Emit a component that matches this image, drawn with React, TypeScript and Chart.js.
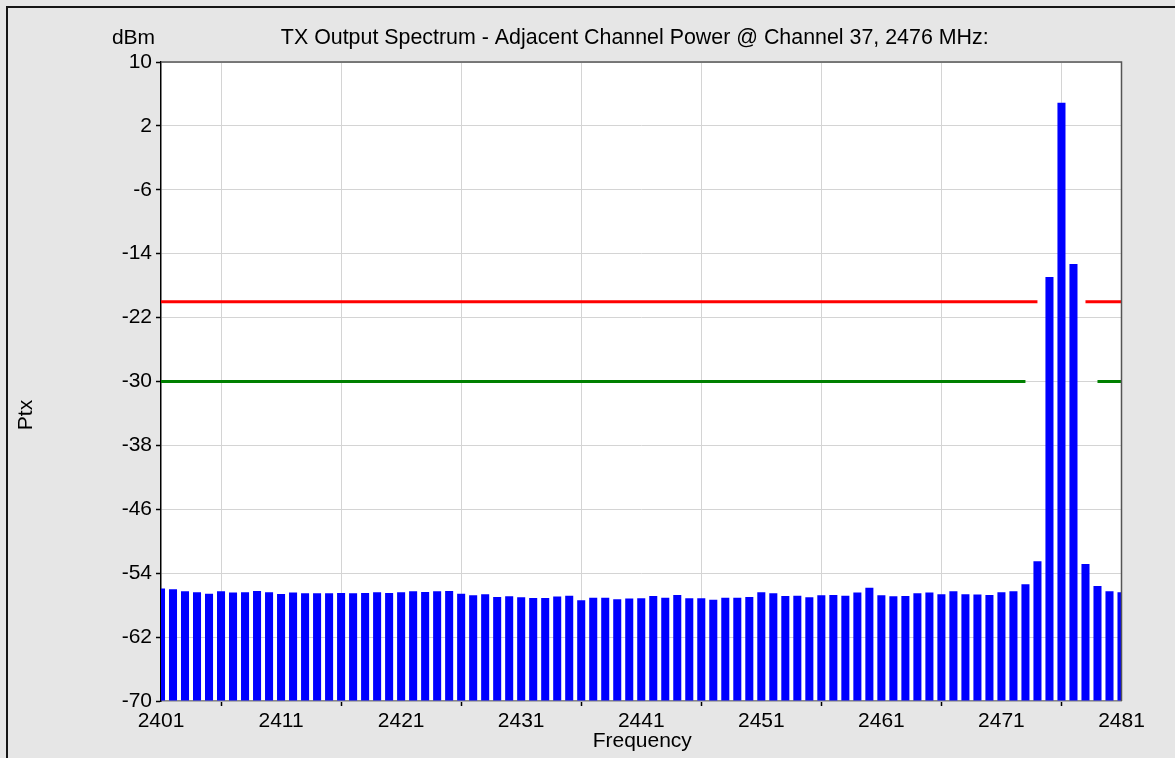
import React, { useEffect, useRef } from 'react';
import { Chart, registerables } from 'chart.js';

Chart.register(...registerables);

const TITLE = 'TX Output Spectrum - Adjacent Channel Power @ Channel 37, 2476 MHz:';
const Y_UNIT = 'dBm';
const Y_TITLE = 'Ptx';
const X_TITLE = 'Frequency';

const frequencies = [
  2401, 2402, 2403, 2404, 2405, 2406, 2407, 2408, 2409, 2410,
  2411, 2412, 2413, 2414, 2415, 2416, 2417, 2418, 2419, 2420,
  2421, 2422, 2423, 2424, 2425, 2426, 2427, 2428, 2429, 2430,
  2431, 2432, 2433, 2434, 2435, 2436, 2437, 2438, 2439, 2440,
  2441, 2442, 2443, 2444, 2445, 2446, 2447, 2448, 2449, 2450,
  2451, 2452, 2453, 2454, 2455, 2456, 2457, 2458, 2459, 2460,
  2461, 2462, 2463, 2464, 2465, 2466, 2467, 2468, 2469, 2470,
  2471, 2472, 2473, 2474, 2475, 2476, 2477, 2478, 2479, 2480,
  2481,
];

const powerDbm = [
  -55.93, -56.02, -56.27, -56.39, -56.56, -56.27, -56.43, -56.39, -56.22, -56.39,
  -56.6, -56.43, -56.52, -56.52, -56.52, -56.47, -56.52, -56.47, -56.39, -56.47,
  -56.39, -56.27, -56.35, -56.27, -56.22, -56.56, -56.77, -56.64, -56.98, -56.89,
  -57.02, -57.1, -57.1, -56.93, -56.81, -57.39, -57.06, -57.06, -57.27, -57.18,
  -57.14, -56.85, -57.06, -56.73, -57.14, -57.14, -57.31, -57.06, -57.06, -56.98,
  -56.39, -56.52, -56.85, -56.83, -57.02, -56.77, -56.73, -56.81, -56.43, -55.81,
  -56.77, -56.89, -56.85, -56.52, -56.43, -56.64, -56.27, -56.64, -56.68, -56.73,
  -56.39, -56.27, -55.39, -52.51, -16.92, 4.91, -15.29, -52.84, -55.6, -56.27,
  -56.39,
];

// Limit lines (null = gap around the carrier)
const redLimitX = [2401, 2474, 2476, 2478, 2481];
const redLimitY = [-20, -20, null, -20, -20];
const greenLimitX = [2401, 2473, 2476, 2479, 2481];
const greenLimitY = [-30, -30, null, -30, -30];

const Y_MIN = -70;
const Y_MAX = 10;
const Y_STEP = 8;
const X_MIN = 2401;
const X_MAX = 2481;
const X_STEP = 10;

const FONT_FAMILY = '"Liberation Sans", Arial, Helvetica, sans-serif';
const FONT_SIZE = 21;
const TITLE_FONT_SIZE = 21.4;

const decorPlugin = {
  id: 'decor',
  beforeDraw(chart: any) {
    const { ctx, chartArea: a, width, height } = chart;
    ctx.save();
    ctx.fillStyle = '#e6e6e6';
    ctx.fillRect(0, 0, width, height);
    ctx.fillStyle = '#161616';
    ctx.fillRect(6, 6, width - 6, 2);
    ctx.fillRect(6, 6, 2, height - 6);
    ctx.fillStyle = '#ffffff';
    ctx.fillRect(a.left, a.top, a.right - a.left, a.bottom - a.top);
    ctx.restore();
  },
  afterDraw(chart: any) {
    const { ctx, chartArea: a } = chart;
    ctx.save();
    ctx.strokeStyle = '#555555';
    ctx.lineWidth = 1.5;
    ctx.beginPath();
    ctx.moveTo(a.left, a.top);
    ctx.lineTo(a.right, a.top);
    ctx.lineTo(a.right, a.bottom);
    ctx.stroke();

    ctx.fillStyle = '#000000';
    ctx.textAlign = 'center';
    ctx.textBaseline = 'middle';
    const cx = (a.left + a.right) / 2;
    ctx.font = `${TITLE_FONT_SIZE}px ${FONT_FAMILY}`;
    ctx.fillText(TITLE, cx - 6.5, a.top - 24);
    ctx.font = `${FONT_SIZE}px ${FONT_FAMILY}`;
    ctx.fillText(Y_UNIT, a.left - 27.5, a.top - 24);
    ctx.fillText(X_TITLE, cx + 1, a.bottom + 40);
    ctx.translate(26, 415);
    ctx.rotate(-Math.PI / 2);
    ctx.fillText(Y_TITLE, 0, 0);
    ctx.restore();
  },
};

export default function App() {
  const canvasRef = useRef<HTMLCanvasElement | null>(null);

  useEffect(() => {
    const canvas = canvasRef.current;
    if (!canvas) return;
    const tickFont = { family: FONT_FAMILY, size: FONT_SIZE };
    const chart = new Chart(canvas, {
      type: 'bar',
      data: {
        datasets: [
          {
            type: 'line',
            data: redLimitX.map((x, i) => ({ x, y: redLimitY[i] })),
            borderColor: '#ff0000',
            borderWidth: 3,
            pointRadius: 0,
            fill: false,
            spanGaps: false,
            order: 1,
          } as any,
          {
            type: 'line',
            data: greenLimitX.map((x, i) => ({ x, y: greenLimitY[i] })),
            borderColor: '#008000',
            borderWidth: 3,
            pointRadius: 0,
            fill: false,
            spanGaps: false,
            order: 1,
          } as any,
          {
            type: 'bar',
            data: frequencies.map((x, i) => ({ x, y: powerDbm[i] })),
            backgroundColor: '#0000ff',
            borderWidth: 0,
            base: Y_MIN,
            barPercentage: 0.67,
            categoryPercentage: 1,
            order: 2,
          } as any,
        ],
      },
      options: {
        animation: false,
        responsive: false,
        events: [],
        layout: { padding: { left: 0, top: 62, right: 53.5, bottom: 0 } },
        plugins: {
          legend: { display: false },
          title: { display: false },
          tooltip: { enabled: false },
        },
        scales: {
          x: {
            type: 'linear',
            min: X_MIN,
            max: X_MAX,
            offset: false,
            ticks: {
              stepSize: X_STEP,
              autoSkip: false,
              maxRotation: 0,
              color: '#000000',
              font: tickFont,
              padding: 3,
              callback: (v: any) => String(v),
            },
            grid: {
              color: '#d4d4d4',
              lineWidth: 1,
              tickLength: 5,
              tickColor: '#000000',
              tickWidth: 1.5,
            },
            border: { color: '#8a8a8a', width: 1.5 },
            afterFit: (s: any) => {
              s.height = 57;
            },
          },
          y: {
            min: Y_MIN,
            max: Y_MAX,
            ticks: {
              stepSize: Y_STEP,
              color: '#000000',
              font: tickFont,
              padding: 4,
              callback: (v: any) => String(v),
            },
            grid: {
              color: '#d4d4d4',
              lineWidth: 1,
              tickLength: 5,
              tickColor: '#000000',
              tickWidth: 1.5,
            },
            border: { color: '#000000', width: 1.5 },
            afterFit: (s: any) => {
              s.width = 161;
            },
          },
        },
      } as any,
      plugins: [decorPlugin],
    });
    return () => chart.destroy();
  }, []);

  return (
    <div style={{ position: 'absolute', left: 0, top: 0, width: 1175, height: 758 }}>
      <canvas ref={canvasRef} width={1175} height={758} />
    </div>
  );
}
